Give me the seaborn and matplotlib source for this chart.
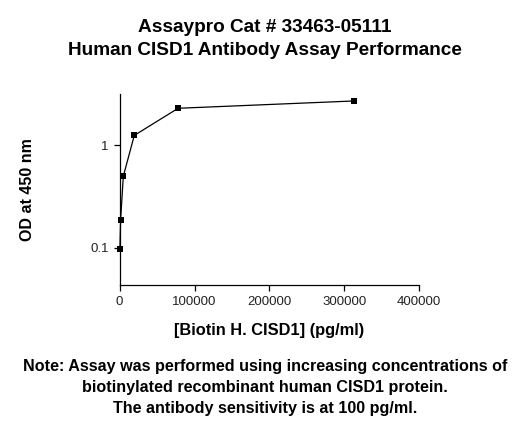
import numpy as np
import pandas as pd
import matplotlib
matplotlib.use("Agg")
import matplotlib.pyplot as plt
import seaborn as sns
from matplotlib.ticker import FixedLocator, FixedFormatter, NullLocator

# valeurs
concentration = [305, 1220, 4883, 19531, 78125, 312500]
od_450 = [0.097, 0.186, 0.50, 1.25, 2.30, 2.71]
xticks = [0, 100000, 200000, 300000, 400000]
yticks = [0.1, 1]
ytick_labels = ["0.1", "1"]

df = pd.DataFrame({"conc": concentration, "od": od_450})

sns.set_style("ticks")
plt.rcParams['font.family'] = ['Liberation Sans', 'DejaVu Sans']
plt.rcParams['text.color'] = 'black'
plt.rcParams['axes.labelcolor'] = 'black'
plt.rcParams['xtick.color'] = 'black'
plt.rcParams['ytick.color'] = 'black'

fig = plt.figure(figsize=(5.3, 4.25), dpi=100)
ax = fig.add_axes([0.2258, 0.3294, 0.5648, 0.4494])

sns.lineplot(data=df, x="conc", y="od", ax=ax, color="black", linewidth=0.9,
             marker="s", markersize=4.5, markeredgewidth=0, markerfacecolor="black",
             clip_on=False)

ax.set_yscale("log")
ax.set_xlim(0, 400000)
ax.set_ylim(0.0433, 3.17)
ax.xaxis.set_major_locator(FixedLocator(xticks))
ax.set_xticklabels([str(v) for v in xticks])
ax.yaxis.set_major_locator(FixedLocator(yticks))
ax.yaxis.set_major_formatter(FixedFormatter(ytick_labels))
ax.yaxis.set_minor_locator(NullLocator())
ax.tick_params(axis="both", labelsize=9.5, length=4, width=0.9, color="black",
               labelcolor="#222222", pad=4)
for s in ["left", "bottom"]:
    ax.spines[s].set_linewidth(0.9)
    ax.spines[s].set_color("black")
sns.despine(ax=ax)

ax.set_xlabel("[Biotin H. CISD1] (pg/ml)", fontsize=11.75, fontweight="bold", labelpad=11)
ax.set_ylabel("OD at 450 nm", fontsize=11.5, fontweight="bold", labelpad=40)

fig.text(0.5, 0.955, "Assaypro Cat # 33463-05111\nHuman CISD1 Antibody Assay Performance",
         ha="center", va="top", fontsize=13.7, fontweight="bold", linespacing=1.43)
fig.text(0.5, 0.156, "Note: Assay was performed using increasing concentrations of\n"
         "biotinylated recombinant human CISD1 protein.\n"
         "The antibody sensitivity is at 100 pg/ml.",
         ha="center", va="top", fontsize=11.6, fontweight="bold", linespacing=1.5)

fig.savefig("out.png", dpi=100)
